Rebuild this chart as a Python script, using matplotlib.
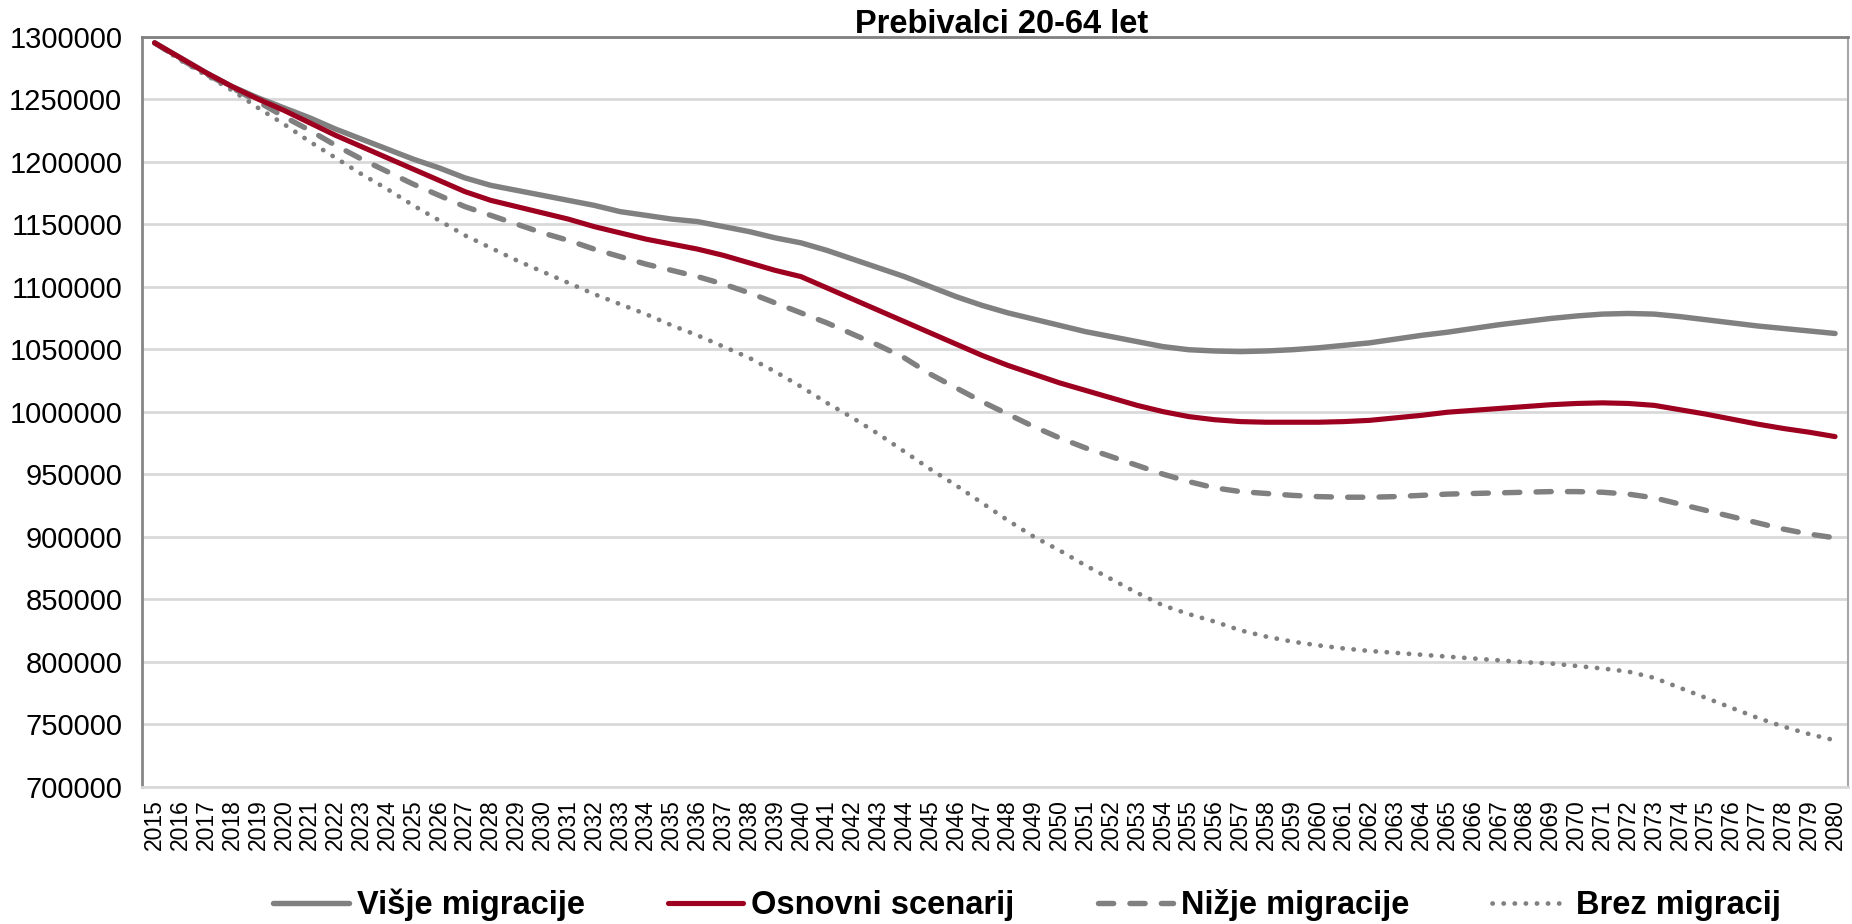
import matplotlib
matplotlib.use("Agg")
import matplotlib.pyplot as plt
import numpy as np

years = list(range(2015, 2081))

visje = [1295000, 1283000, 1271000, 1260000, 1251000, 1243000, 1235000, 1226000, 1218000, 1210000,
         1202000, 1195000, 1187000, 1181000, 1177000, 1173000, 1169000, 1165000, 1160000, 1157000,
         1154000, 1152000, 1148000, 1144000, 1139000, 1135000, 1129000, 1122000, 1115000, 1108000,
         1100000, 1092000, 1085000, 1079000, 1074000, 1069000, 1064000, 1060000, 1056000, 1052000,
         1049500, 1048500, 1048000, 1048500, 1049500, 1051000, 1053000, 1055000, 1058000, 1061000,
         1063500, 1066500, 1069500, 1072000, 1074500, 1076500, 1078000, 1078500, 1078000, 1076000,
         1073500, 1071000, 1068500, 1066500, 1064500, 1062500]

osnovni = [1295000, 1283000, 1271000, 1260000, 1250000, 1241000, 1231000, 1221000, 1212000, 1203000,
           1194000, 1185000, 1176000, 1169000, 1164000, 1159000, 1154000, 1148000, 1143000, 1138000,
           1134000, 1130000, 1125000, 1119000, 1113000, 1108000, 1099000, 1090000, 1081000, 1072000,
           1063000, 1054000, 1045000, 1037000, 1030000, 1023000, 1017000, 1011000, 1005000, 1000000,
           996000, 993500, 992000, 991500, 991500, 991500, 992000, 993000, 995000, 997000,
           999500, 1001000, 1002500, 1004000, 1005500, 1006500, 1007000, 1006500, 1005000, 1001500,
           998000, 994000, 990000, 986500, 983500, 980000]

nizje = [1295000, 1282000, 1270000, 1259000, 1248000, 1236000, 1225000, 1213000, 1202000, 1192000,
         1182000, 1173000, 1164000, 1157000, 1150000, 1143000, 1137000, 1130000, 1124000, 1118000,
         1113000, 1108000, 1102000, 1095000, 1087000, 1079000, 1071000, 1062000, 1053000, 1043000,
         1030000, 1019000, 1008000, 998000, 988000, 979000, 971000, 964000, 957000, 950000,
         944000, 939000, 936000, 934500, 933000, 932000, 931500, 931500, 932000, 933000,
         934000, 934500, 935000, 935500, 936000, 936000, 935500, 934000, 931000, 926000,
         921000, 916000, 911000, 906000, 902000, 899000]

brez = [1295000, 1281000, 1269000, 1257000, 1243000, 1230000, 1216000, 1203000, 1190000, 1178000,
        1165000, 1153000, 1141000, 1131000, 1121000, 1112000, 1103000, 1094000, 1086000, 1078000,
        1069000, 1061000, 1052000, 1043000, 1032000, 1020000, 1007000, 995000, 982000, 968000,
        954000, 941000, 927000, 913000, 900000, 889000, 877000, 866000, 855000, 845000,
        838000, 832000, 825000, 820000, 816000, 813000, 810500, 808500, 807000, 805500,
        804000, 802500, 801000, 799500, 798500, 796500, 794500, 792000, 787000, 779000,
        771000, 763000, 755000, 748000, 742000, 737000]

labels = ["Višje migracije", "Osnovni scenarij", "Nižje migracije", "Brez migracij"]
title = "Prebivalci 20-64 let"
yticks = list(range(700000, 1300001, 50000))

plt.rcParams['font.family'] = ['Liberation Sans', 'DejaVu Sans']

fig = plt.figure(figsize=(18.52, 9.24), dpi=100)
ax = fig.add_axes([141.7 / 1852, 1 - 786.6 / 924, (1848 - 141.7) / 1852, (786.6 - 36.6) / 924])

x = np.arange(len(years))
gray = '#808080'
red = '#9E0020'

ax.plot(x, visje, color=gray, lw=3.9, solid_capstyle='round', label=labels[0], zorder=3)
ax.plot(x, osnovni, color=red, lw=3.7, solid_capstyle='round', label=labels[1], zorder=4)
ax.plot(x, nizje, color=gray, lw=3.9, linestyle=(0, (2.8, 3.0)), dash_capstyle='round',
        label=labels[2], zorder=3)
ax.plot(x, brez, color=gray, lw=3.4, linestyle=(0, (0.05, 2.3)), dash_capstyle='round',
        label=labels[3], zorder=3)

ax.set_xlim(-0.5, len(years) - 0.5)
ax.set_ylim(700000, 1300000)
ax.set_yticks(yticks)
ax.set_yticklabels([str(v) for v in yticks], fontsize=21)
ax.set_xticks(x)
ax.set_xticklabels([str(y) for y in years], rotation=90, fontsize=16.5)
ax.tick_params(axis='y', length=0, pad=14)
ax.tick_params(axis='x', length=0, pad=9)

ax.grid(axis='y', color='#D9D9D9', lw=2)
ax.set_axisbelow(True)
ax.spines['left'].set_color('#868686')
ax.spines['left'].set_linewidth(2)
ax.spines['top'].set_color('#808080')
ax.spines['top'].set_linewidth(2)
ax.spines['right'].set_color('#A6A6A6')
ax.spines['right'].set_linewidth(1.5)
ax.spines['bottom'].set_color('#D9D9D9')
ax.spines['bottom'].set_linewidth(2)

fig.text(1002 / 1852, 1 - 33 / 924, title, ha='center', va='baseline', fontsize=23.5, fontweight='bold')

leg = fig.legend(loc='center', bbox_to_anchor=(1027 / 1852, 1 - 905 / 924), ncol=4, frameon=False,
                 prop={'size': 23.5, 'weight': 'bold'}, handlelength=2.3, handletextpad=0.25,
                 columnspacing=2.55)

fig.savefig('out.png', dpi=100, facecolor='white')
